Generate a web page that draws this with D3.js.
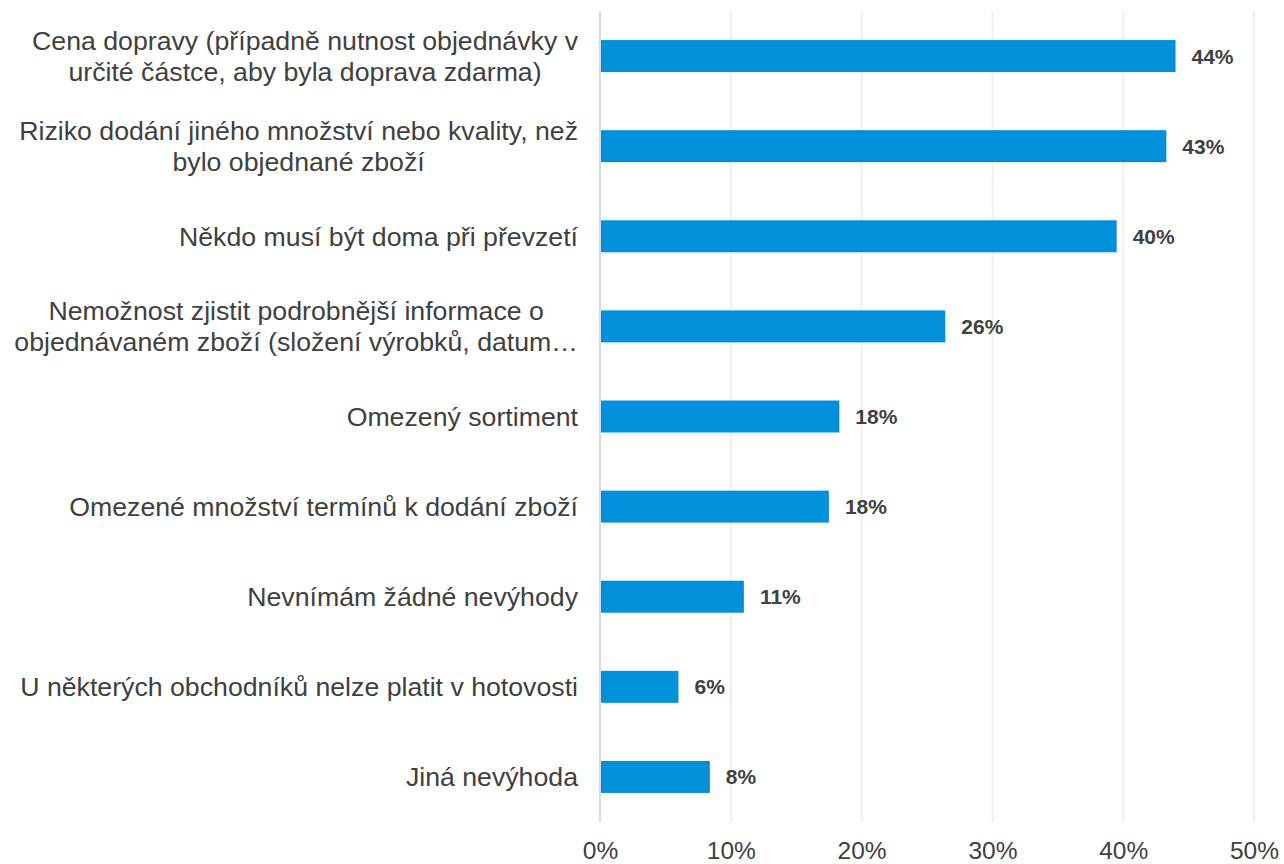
<!DOCTYPE html>
<html>
<head>
<meta charset="utf-8">
<script src="https://cdn.jsdelivr.net/npm/d3@7/dist/d3.min.js"></script>
<style>
  html, body { margin: 0; padding: 0; background: #fff; }
  svg { display: block; font-family: "Liberation Sans", Arial, sans-serif; }
</style>
</head>
<body>
<svg id="chart" width="1284" height="864"></svg>
<script>
// Category labels (each entry is a list of wrapped lines)
const categories = [
  ["Cena dopravy (případně nutnost objednávky v", "určité částce, aby byla doprava zdarma)"],
  ["Riziko dodání jiného množství nebo kvality, než", "bylo objednané zboží"],
  ["Někdo musí být doma při převzetí"],
  ["Nemožnost zjistit podrobnější informace o", "objednávaném zboží (složení výrobků, datum…"],
  ["Omezený sortiment"],
  ["Omezené množství termínů k dodání zboží"],
  ["Nevnímám žádné nevýhody"],
  ["U některých obchodníků nelze platit v hotovosti"],
  ["Jiná nevýhoda"]
];
// Share of respondents (fraction)
const values = [0.440, 0.433, 0.395, 0.264, 0.183, 0.175, 0.110, 0.060, 0.084];
const xTicks = [0, 0.1, 0.2, 0.3, 0.4, 0.5];

const svg = d3.select("#chart");
const margin = { top: 11, right: 30, bottom: 42, left: 600 };
const W = 1284, H = 864;
const plotW = 654, plotH = H - margin.top - margin.bottom;

const x = d3.scaleLinear().domain([0, 0.5]).range([margin.left, margin.left + plotW]);
const y = d3.scaleBand().domain(d3.range(categories.length))
  .range([margin.top, margin.top + plotH]).paddingInner(0.645).paddingOuter(0.3225);

// vertical gridlines
svg.append("g").selectAll("line").data(xTicks.slice(1)).join("line")
  .attr("x1", d => x(d)).attr("x2", d => x(d))
  .attr("y1", margin.top).attr("y2", margin.top + plotH)
  .attr("stroke", "#ebebeb").attr("stroke-width", 1.5);

// bars
svg.append("g").selectAll("rect").data(values).join("rect")
  .attr("x", x(0)).attr("y", (d, i) => y(i))
  .attr("width", d => x(d) - x(0)).attr("height", y.bandwidth())
  .attr("fill", "#0091da");

// category axis line
svg.append("line")
  .attr("x1", x(0)).attr("x2", x(0))
  .attr("y1", margin.top).attr("y2", margin.top + plotH)
  .attr("stroke", "#d9d9d9").attr("stroke-width", 2);

// x axis tick labels
const xAxis = d3.axisBottom(x).tickValues(xTicks).tickFormat(d3.format(".0%")).tickSize(0).tickPadding(0);
const gx = svg.append("g").attr("transform", `translate(0,${margin.top + plotH})`).call(xAxis);
gx.select(".domain").remove();
gx.selectAll("text")
  .attr("y", 37).attr("dy", null)
  .attr("font-size", 24.5).attr("fill", "#404040")
  .attr("font-family", "Liberation Sans, Arial, sans-serif");

// value labels
svg.append("g").selectAll("text").data(values).join("text")
  .attr("x", d => x(d) + 16)
  .attr("y", (d, i) => y(i) + y.bandwidth() / 2 + 7.5)
  .attr("font-size", 21).attr("font-weight", "bold").attr("fill", "#404040")
  .text(d => d3.format(".0%")(d));

// category labels: multi-line blocks, lines centred within a right-aligned block
const labelRight = 578;
const lineH = 30.5;
const fs = 26.7;
const lg = svg.append("g");
categories.forEach((lines, i) => {
  const cy = y(i) + y.bandwidth() / 2;
  const t = lg.append("text").attr("font-size", fs).attr("fill", "#404040");
  const spans = lines.map(s => t.append("tspan").text(s));
  const widths = spans.map(s => s.node().getComputedTextLength());
  const maxW = d3.max(widths);
  const cx = labelRight - maxW / 2;
  const y0 = cy - (lines.length - 1) * lineH / 2 + fs * 0.35;
  spans.forEach((s, k) => s.attr("x", cx).attr("y", y0 + k * lineH).attr("text-anchor", "middle"));
});
</script>
</body>
</html>
